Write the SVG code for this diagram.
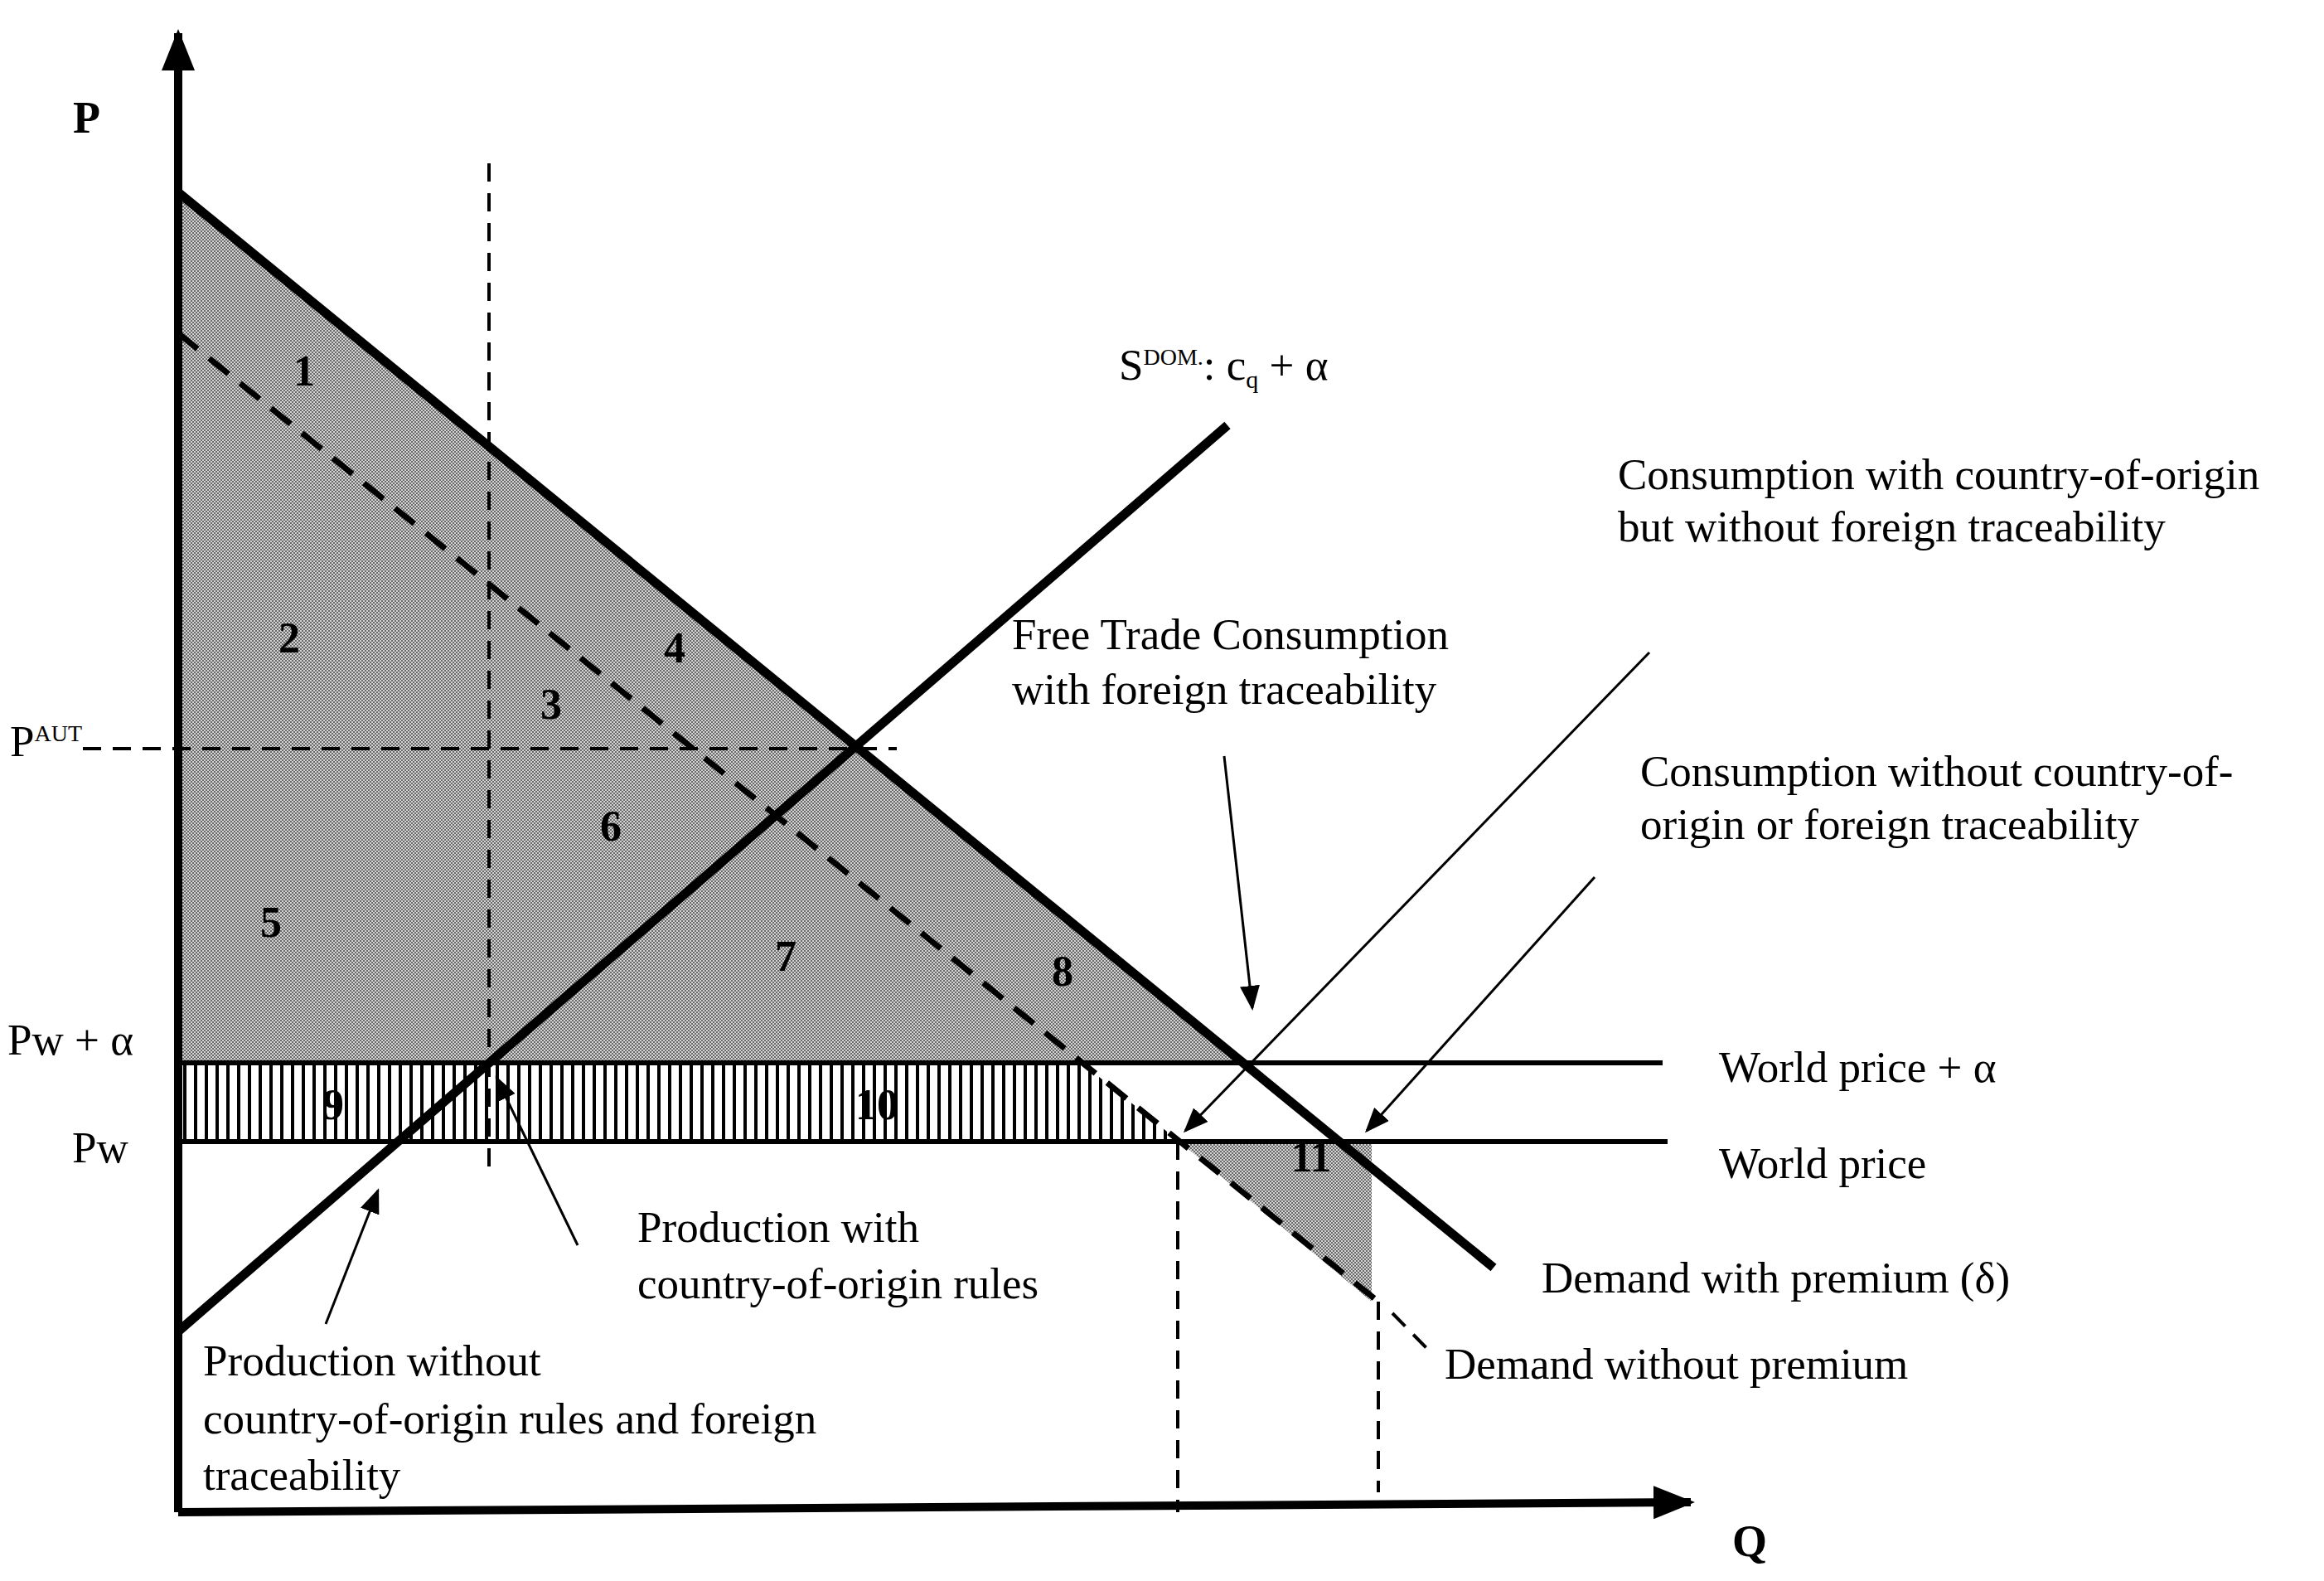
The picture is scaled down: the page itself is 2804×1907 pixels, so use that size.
<svg xmlns="http://www.w3.org/2000/svg" width="2804" height="1907" viewBox="0 0 2804 1907">
<defs>
<pattern id="hatch" width="4" height="4" patternUnits="userSpaceOnUse">
<rect width="4" height="4" fill="#d4d4d4"/>
<rect width="2" height="2" fill="#6a6a6a"/>
<rect x="2" y="2" width="2" height="2" fill="#6a6a6a"/>
</pattern>
<pattern id="vstripe" width="13" height="10" patternUnits="userSpaceOnUse">
<rect width="13" height="10" fill="#fff"/>
<rect width="4" height="10" fill="#000"/>
</pattern>
<marker id="ah" markerWidth="10" markerHeight="8" refX="9" refY="4" orient="auto" markerUnits="strokeWidth">
<path d="M0,0 L10,4 L0,8 z" fill="#000"/>
</marker>
<marker id="big" markerWidth="5" markerHeight="4" refX="4.5" refY="2" orient="auto" markerUnits="strokeWidth">
<path d="M0,0 L5,2 L0,4 z" fill="#000"/>
</marker>
</defs>
<style>
text{font-family:"Liberation Serif","Times New Roman",serif;font-size:53px;fill:#000}
.num{font-weight:bold;font-size:52px;text-anchor:middle}
.thick{stroke:#000;stroke-width:11;fill:none}
.line{stroke:#000;stroke-width:6;fill:none}
.dash{stroke:#000;stroke-width:4;stroke-dasharray:22 14;fill:none}
.dashbold{stroke:#000;stroke-width:7;stroke-dasharray:30 18;fill:none}
.arr{stroke:#000;stroke-width:3;fill:none;marker-end:url(#ah)}
</style>
<rect width="2804" height="1907" fill="#fff"/>
<g id="areas">
<polygon points="215,232 1507,1282 215,1282" fill="url(#hatch)"/>
<polygon points="215,1282 1305,1282 1423,1377 215,1377" fill="url(#vstripe)"/>
<polygon points="1423,1377 1655,1377 1655,1570" fill="url(#hatch)"/>
</g>
<g id="connectors">
<line class="dash" x1="100" y1="903" x2="1082" y2="903"/>
<line class="dash" x1="590" y1="197" x2="590" y2="1413"/>
<line class="dash" x1="1421" y1="1377" x2="1421" y2="1824"/>
<line class="dash" x1="1663" y1="1570" x2="1663" y2="1800"/>
<line class="line" x1="215" y1="1282" x2="2006" y2="1282"/>
<line class="line" x1="215" y1="1377" x2="2012" y2="1377"/>
<line class="dashbold" x1="215" y1="402" x2="1663" y2="1570"/>
<line class="dash" x1="1680" y1="1584" x2="1725" y2="1630"/>
<line class="thick" x1="215" y1="232" x2="1802" y2="1529"/>
<line class="thick" x1="215" y1="1606" x2="1481" y2="513"/>
<line stroke="#000" stroke-width="10" x1="215" y1="1824" x2="215" y2="40" marker-end="url(#big)"/>
<line stroke="#000" stroke-width="10" x1="215" y1="1824" x2="2040" y2="1812" marker-end="url(#big)"/>
<line class="arr" x1="1477" y1="912" x2="1511" y2="1216"/>
<line class="arr" x1="1990" y1="787" x2="1430" y2="1364"/>
<line class="arr" x1="1924" y1="1058" x2="1649" y2="1364"/>
<line class="arr" x1="697" y1="1502" x2="599" y2="1300"/>
<line class="arr" x1="393" y1="1597" x2="456" y2="1436"/>
</g>
<g id="numbers">
<text class="num" x="367" y="465">1</text>
<text class="num" x="349" y="787">2</text>
<text class="num" x="665" y="867">3</text>
<text class="num" x="814" y="799">4</text>
<text class="num" x="327" y="1130">5</text>
<text class="num" x="737" y="1014">6</text>
<text class="num" x="948" y="1171">7</text>
<text class="num" x="1282" y="1189">8</text>
<text class="num" x="402" y="1350">9</text>
<text class="num" x="1058" y="1350">10</text>
<text class="num" x="1582" y="1413">11</text>
</g>
<g id="labels">
<text x="88" y="160" font-weight="bold" style="font-size:54px">P</text>
<text x="2090" y="1877" font-weight="bold" style="font-size:54px">Q</text>
<text x="12" y="912">P<tspan font-size="28" dy="-18">AUT</tspan></text>
<text x="9" y="1272">Pw + α</text>
<text x="87" y="1402">Pw</text>
<text x="1350" y="458">S<tspan font-size="28" dy="-18">DOM.</tspan><tspan dy="18">: c</tspan><tspan font-size="30" dy="10">q</tspan><tspan dy="-10"> + α</tspan></text>
<text x="1952" y="590">Consumption with country-of-origin</text>
<text x="1952" y="653">but without foreign traceability</text>
<text x="1221" y="783">Free Trade Consumption</text>
<text x="1221" y="849">with foreign traceability</text>
<text x="1979" y="948">Consumption without country-of-</text>
<text x="1979" y="1012">origin or foreign traceability</text>
<text x="2074" y="1305">World price + α</text>
<text x="2074" y="1421">World price</text>
<text x="1860" y="1559">Demand with premium (δ)</text>
<text x="1743" y="1663">Demand without premium</text>
<text x="769" y="1498">Production with</text>
<text x="769" y="1566">country-of-origin rules</text>
<text x="245" y="1659">Production without</text>
<text x="245" y="1729">country-of-origin rules and foreign</text>
<text x="245" y="1797">traceability</text>
</g>
</svg>
